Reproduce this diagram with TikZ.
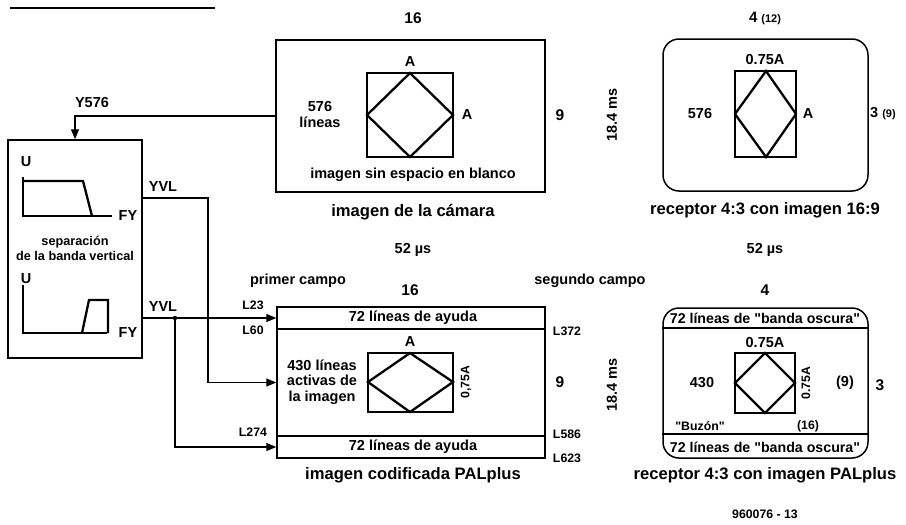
\documentclass[tikz,border=0pt]{standalone}
\usepackage{fontspec}
\setmainfont{Liberation Sans}[Ligatures=TeXOff]
\usetikzlibrary{arrows.meta}
\tikzset{
  every node/.style={font=\fontsize{14.5}{15.5}\selectfont\bfseries, inner sep=0pt},
  big/.style={font=\fontsize{15.5}{16}\selectfont\bfseries},
  title/.style={font=\fontsize{16.6}{18}\selectfont\bfseries},
  small/.style={font=\fontsize{12.3}{14}\selectfont\bfseries},
  tiny/.style={font=\fontsize{11}{12}\selectfont\bfseries},
  frame/.style={draw, line width=1.5pt, minimum width=#1},
  pic/.style={line width=2.3pt, line join=miter},
  wire/.style={line width=1.3pt},
  arr/.style={wire, -{Triangle[length=10pt,width=8pt]}},
}
\begin{document}
\begin{tikzpicture}[x=1pt,y=-1pt]
\useasboundingbox (0,0) rectangle (906,525);
% cropped heading rule
\draw[line width=1.5pt] (10,8) -- (215,8);

% ---------- camera image ----------
\node[frame=269pt, minimum height=152pt] (cam) at (410.5,116) {};
\draw[pic] (367,73) rectangle (453,157);
\draw[pic] (410,73) -- (453,115) -- (410,157) -- (367,115) -- cycle;
\node (camA1) at (410,62) {A};
\node (camA2) at (467,115) {A};
\node[align=center, font=\fontsize{14.5}{16}\selectfont\bfseries] (cam576) at (320,115) {576\\líneas};
\node (camsin) at (413,175) {imagen sin espacio en blanco};
\node[title] (camt) at (413,212) {imagen de la cámara};
\node[big] (cam16) at (413,18) {16};
\node[big] (cam9) at (560,115) {9};
\node[rotate=90] (ms1) at (612,115) {18.4 ms};

% ---------- receptor 16:9 ----------
\node[frame=205pt, minimum height=152pt, rounded corners=16pt] (rec1) at (765.5,115) {};
\draw[pic] (735,71) rectangle (796,157);
\draw[pic] (766,71) -- (796,114) -- (766,157) -- (735,114) -- cycle;
\node (r1a) at (765,60) {0.75A};
\node (r1b) at (808,114) {A};
\node (r1c) at (700,114) {576};
\node (r1d) at (883,114) {3 {\fontsize{11}{11}\selectfont(9)}};
\node (r1e) at (765,18) {{\fontsize{15}{15}\selectfont 4} {\fontsize{11}{11}\selectfont(12)}};
\node[title] (r1t) at (765,210) {receptor 4:3 con imagen 16:9};

\node (us1) at (413,250) {52 µs};
\node (us2) at (765,250) {52 µs};

% ---------- separation box ----------
\node[frame=134pt, minimum height=218pt] (sep) at (75,249) {};
\draw[line width=1.5pt] (23,177) -- (23,216) -- (112,216);
\draw[line width=2.3pt] (24,181) -- (83,181) -- (92,216);
\node (u1) at (26,162) {U};
\node (fy1) at (128,216) {FY};
\node[font=\fontsize{12.7}{15}\selectfont\bfseries, align=center] (septxt) at (75,248) {separación\\de la banda vertical};
\draw[line width=1.5pt] (23,285) -- (23,333) -- (107,333);
\draw[line width=2.3pt] (82,333) -- (89,300) -- (108,300) -- (108,333);
\node (u2) at (26,279) {U};
\node (fy2) at (128,333) {FY};
\node (y576) at (92,103) {Y576};

\draw[arr] (cam.west) -| (sep.north);

% ---------- PALplus coded image ----------
\node[frame=268pt, minimum height=151pt] (pal) at (411,382.5) {};
\draw[line width=1.5pt] (pal.west |- 0,329) -- (pal.east |- 0,329);
\draw[line width=1.5pt] (pal.west |- 0,436) -- (pal.east |- 0,436);
\node (ay1) at (413,318) {72 líneas de ayuda};
\node (ay2) at (413,447) {72 líneas de ayuda};
\draw[pic] (368,353) rectangle (453,412);
\draw[pic] (410,353) -- (453,382) -- (410,412) -- (368,382) -- cycle;
\node (palA) at (410,342) {A};
\node[small, rotate=90] (pal075) at (466,382) {0,75A};
\node[align=center] (pal430) at (322,382) {430 líneas\\activas de\\la imagen};
\node[big] (pal9) at (560,382) {9};
\node[big] (pal16) at (410,290) {16};
\node (prim) at (298,281) {primer campo};
\node (seg) at (590,281) {segundo campo};
\node[small] (l23) at (253,305) {L23};
\node[small] (l60) at (253,330) {L60};
\node[small] (l274) at (253,432) {L274};
\node[small] (l372) at (567,331) {L372};
\node[small] (l586) at (567,434) {L586};
\node[small] (l623) at (567,458) {L623};
\node[title] (palt) at (413,475) {imagen codificada PALplus};
\node[rotate=90] (ms2) at (612,385) {18.4 ms};

% connectors
\coordinate (yvl1) at (142,198);
\coordinate (j1) at (208,198);
\coordinate (yvl2) at (142,318);
\coordinate (dot) at (175,318);
\draw[arr] (yvl1) -- (j1) |- (pal.west);
\draw[arr] (yvl2) -- (yvl2 -| pal.west);
\draw[arr] (dot) |- (pal.west |- 0,447);
\fill (dot) circle (2.2pt);
\node (yvlt1) at (163,187) {YVL};
\node (yvlt2) at (163,307) {YVL};

% ---------- receptor PALplus ----------
\node[frame=205pt, minimum height=150pt, rounded corners=16pt] (rec2) at (765.5,383) {};
\draw[line width=1.5pt] (rec2.west |- 0,328) -- (rec2.east |- 0,328);
\draw[line width=1.5pt] (rec2.west |- 0,434) -- (rec2.east |- 0,434);
\node[font=\fontsize{14.2}{15}\selectfont\bfseries] (bo1) at (765,318) {72 líneas de "banda oscura"};
\node[font=\fontsize{14.2}{15}\selectfont\bfseries] (bo2) at (765,447) {72 líneas de "banda oscura"};
\draw[pic] (735,353) rectangle (795,413);
\draw[pic] (765,353) -- (795,383) -- (765,413) -- (735,383) -- cycle;
\node (r2a) at (765,343) {0.75A};
\node[small, rotate=90] (r2b) at (806,383) {0.75A};
\node (r2c) at (702,383) {430};
\node (r2d) at (845,383) {(9)};
\node[big] (r2e) at (880,385) {3};
\node[big] (r2f) at (765,290) {4};
\node[small] (buzon) at (700,426) {"Buzón"};
\node[small] (r216) at (808,426) {(16)};
\node[title] (r2t) at (765,475) {receptor 4:3 con imagen PALplus};
\node[small] (code) at (765,514) {960076 - 13};
\end{tikzpicture}
\end{document}
